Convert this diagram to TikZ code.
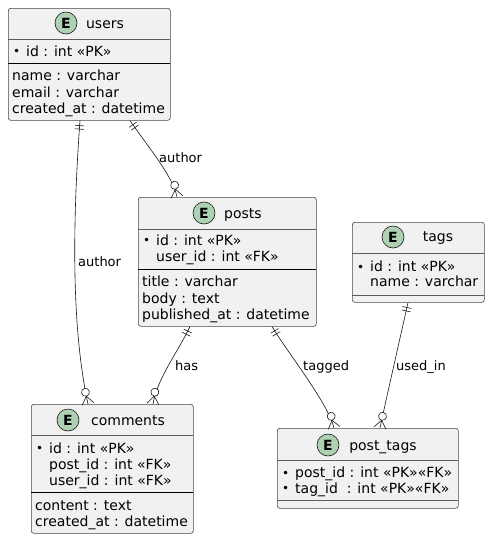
\documentclass[tikz,border=0pt]{standalone}
\usepackage{fontspec}
\setmainfont{DejaVu Sans}
\usetikzlibrary{decorations.markings,calc}
\definecolor{boxfill}{HTML}{F1F1F1}
\definecolor{boxline}{HTML}{181818}
\definecolor{efill}{HTML}{ADD1B2}
\newcommand{\bul}{\makebox[14pt][l]{\kern1pt\raisebox{0.6pt}{\fontsize{12pt}{12pt}\selectfont •}}}
\newcommand{\ind}{\hspace*{14pt}}
\tikzset{
  ent/.style={draw=boxline!80, fill=boxfill, rounded corners=2.5pt, line width=0.6pt, inner sep=0pt, anchor=north west},
  ecirc/.style={circle, draw=boxline, fill=efill, line width=0.6pt, minimum size=22pt, inner sep=0pt, font=\fontsize{14pt}{14pt}\selectfont\bfseries},
  ttl/.style={anchor=base, inner sep=0pt, font=\fontsize{14pt}{16pt}\selectfont},
  attr/.style={anchor=base west, inner sep=0pt, font=\fontsize{14pt}{16pt}\selectfont},
  hsep/.style={draw=boxline!70, line width=0.5pt},
  usep/.style={draw=black, line width=1pt},
  rel/.style={draw=boxline, line width=0.6pt},
  lbl/.style={anchor=base west, inner sep=0pt, font=\fontsize{13pt}{15pt}\selectfont},
  onemark/.style={postaction={decorate, decoration={markings, mark=at position 0 with {\draw[boxline,line width=0.6pt] (5pt,-4.5pt) -- (5pt,4.5pt) (8.5pt,-4.5pt) -- (8.5pt,4.5pt);}}}},
  manymark/.style={postaction={decorate, decoration={markings, mark=at position 1 with {\draw[boxline,line width=0.6pt] (-8pt,0pt) -- (0pt,6pt) (-8pt,0pt) -- (0pt,-6pt); \draw[boxline,line width=0.6pt,fill=white] (-12pt,0pt) circle (4pt);}}}},
}
\begin{document}
\begin{tikzpicture}[x=1pt,y=-1pt]
\fill[white] (0,0) rectangle (498,547);
\useasboundingbox (0,0) rectangle (498,547);

% users
\node[ent, minimum width=162pt, minimum height=112pt] (users) at (8,8) {};
\draw[hsep] (8,39) -- (170,39);
\draw[usep] (8,63) -- (170,63);
\node[ecirc] (users-e) at (66,23) {E};
\node[ttl] (users-t) at (105,28) {users};
\node[attr] (users-a1) at (12,56) {\bul id : int «PK»};
\node[attr] (users-a2) at (12,80.5) {name : varchar};
\node[attr] (users-a3) at (12,97) {email : varchar};
\node[attr] (users-a4) at (12,113) {created\_at : datetime};

% posts
\node[ent, minimum width=178pt, minimum height=129pt] (posts) at (138,197) {};
\draw[hsep] (138,229) -- (316,229);
\draw[usep] (138,269) -- (316,269);
\node[ecirc] (posts-e) at (204,213) {E};
\node[ttl] (posts-t) at (243,218.5) {posts};
\node[attr] (posts-a1) at (142,245.5) {\bul id : int «PK»};
\node[attr] (posts-a2) at (142,261.5) {\ind user\_id : int «FK»};
\node[attr] (posts-a3) at (142,286.5) {title : varchar};
\node[attr] (posts-a4) at (142,303) {body : text};
\node[attr] (posts-a5) at (142,319) {published\_at : datetime};

% comments
\node[ent, minimum width=162pt, minimum height=129pt] (comments) at (31,404) {};
\draw[hsep] (31,435) -- (193,435);
\draw[usep] (31,492) -- (193,492);
\node[ecirc] (comments-e) at (68,420) {E};
\node[ttl] (comments-t) at (128,425) {comments};
\node[attr] (comments-a1) at (35,453.3) {\bul id : int «PK»};
\node[attr] (comments-a2) at (35,469.3) {\ind post\_id : int «FK»};
\node[attr] (comments-a3) at (35,485) {\ind user\_id : int «FK»};
\node[attr] (comments-a4) at (35,510.7) {content : text};
\node[attr] (comments-a5) at (35,526.7) {created\_at : datetime};

% tags
\node[ent, minimum width=132pt, minimum height=80pt] (tags) at (352,222) {};
\draw[hsep] (352,253) -- (484,253);
\draw[hsep] (352,295) -- (484,295);
\node[ecirc] (tags-e) at (393,237) {E};
\node[ttl] (tags-t) at (438,241.7) {tags};
\node[attr] (tags-a1) at (356,271.7) {\bul id : int «PK»};
\node[attr] (tags-a2) at (356,286.7) {\ind name : varchar};

% post_tags
\node[ent, minimum width=181pt, minimum height=80pt] (posttags) at (277,428) {};
\draw[hsep] (277,460) -- (458,460);
\draw[hsep] (277,500) -- (458,500);
\node[ecirc] (posttags-e) at (328,445) {E};
\node[ttl] (posttags-t) at (383,450) {post\_tags};
\node[attr] (posttags-a1) at (281,477.7) {\bul post\_id : int «PK»«FK»};
\node[attr] (posttags-a2) at (281,493.3) {\bul tag\_id\ \ : int «PK»«FK»};

% relations
\draw[rel,onemark,manymark] ($(users.south west)+(72,0)$) .. controls +(-8,110) and +(-16,-74) .. ($(comments.north west)+(57,0)$);
\draw[rel,onemark,manymark] ($(users.south west)+(122,0)$) .. controls +(21,30) and +(-4,-20) .. ($(posts.north west)+(39,0)$);
\draw[rel,onemark,manymark] ($(posts.south west)+(52,0)$) .. controls +(-12,25) and +(4,-25) .. ($(comments.north west)+(122,0)$);
\draw[rel,onemark,manymark] ($(posts.south west)+(134,0)$) .. controls +(15,25) and +(-6,-25) .. ($(posttags.north west)+(57,0)$);
\draw[rel,onemark,manymark] ($(tags.south west)+(56,0)$) .. controls +(-9,40) and +(6,-28) .. ($(posttags.north west)+(103,0)$);

% labels
\node[lbl] (l-author1) at (78,266) {author};
\node[lbl] (l-author2) at (159,162.5) {author};
\node[lbl] (l-has) at (175,370) {has};
\node[lbl] (l-tagged) at (303,370) {tagged};
\node[lbl] (l-usedin) at (396,370) {used\_in};
\end{tikzpicture}
\end{document}
